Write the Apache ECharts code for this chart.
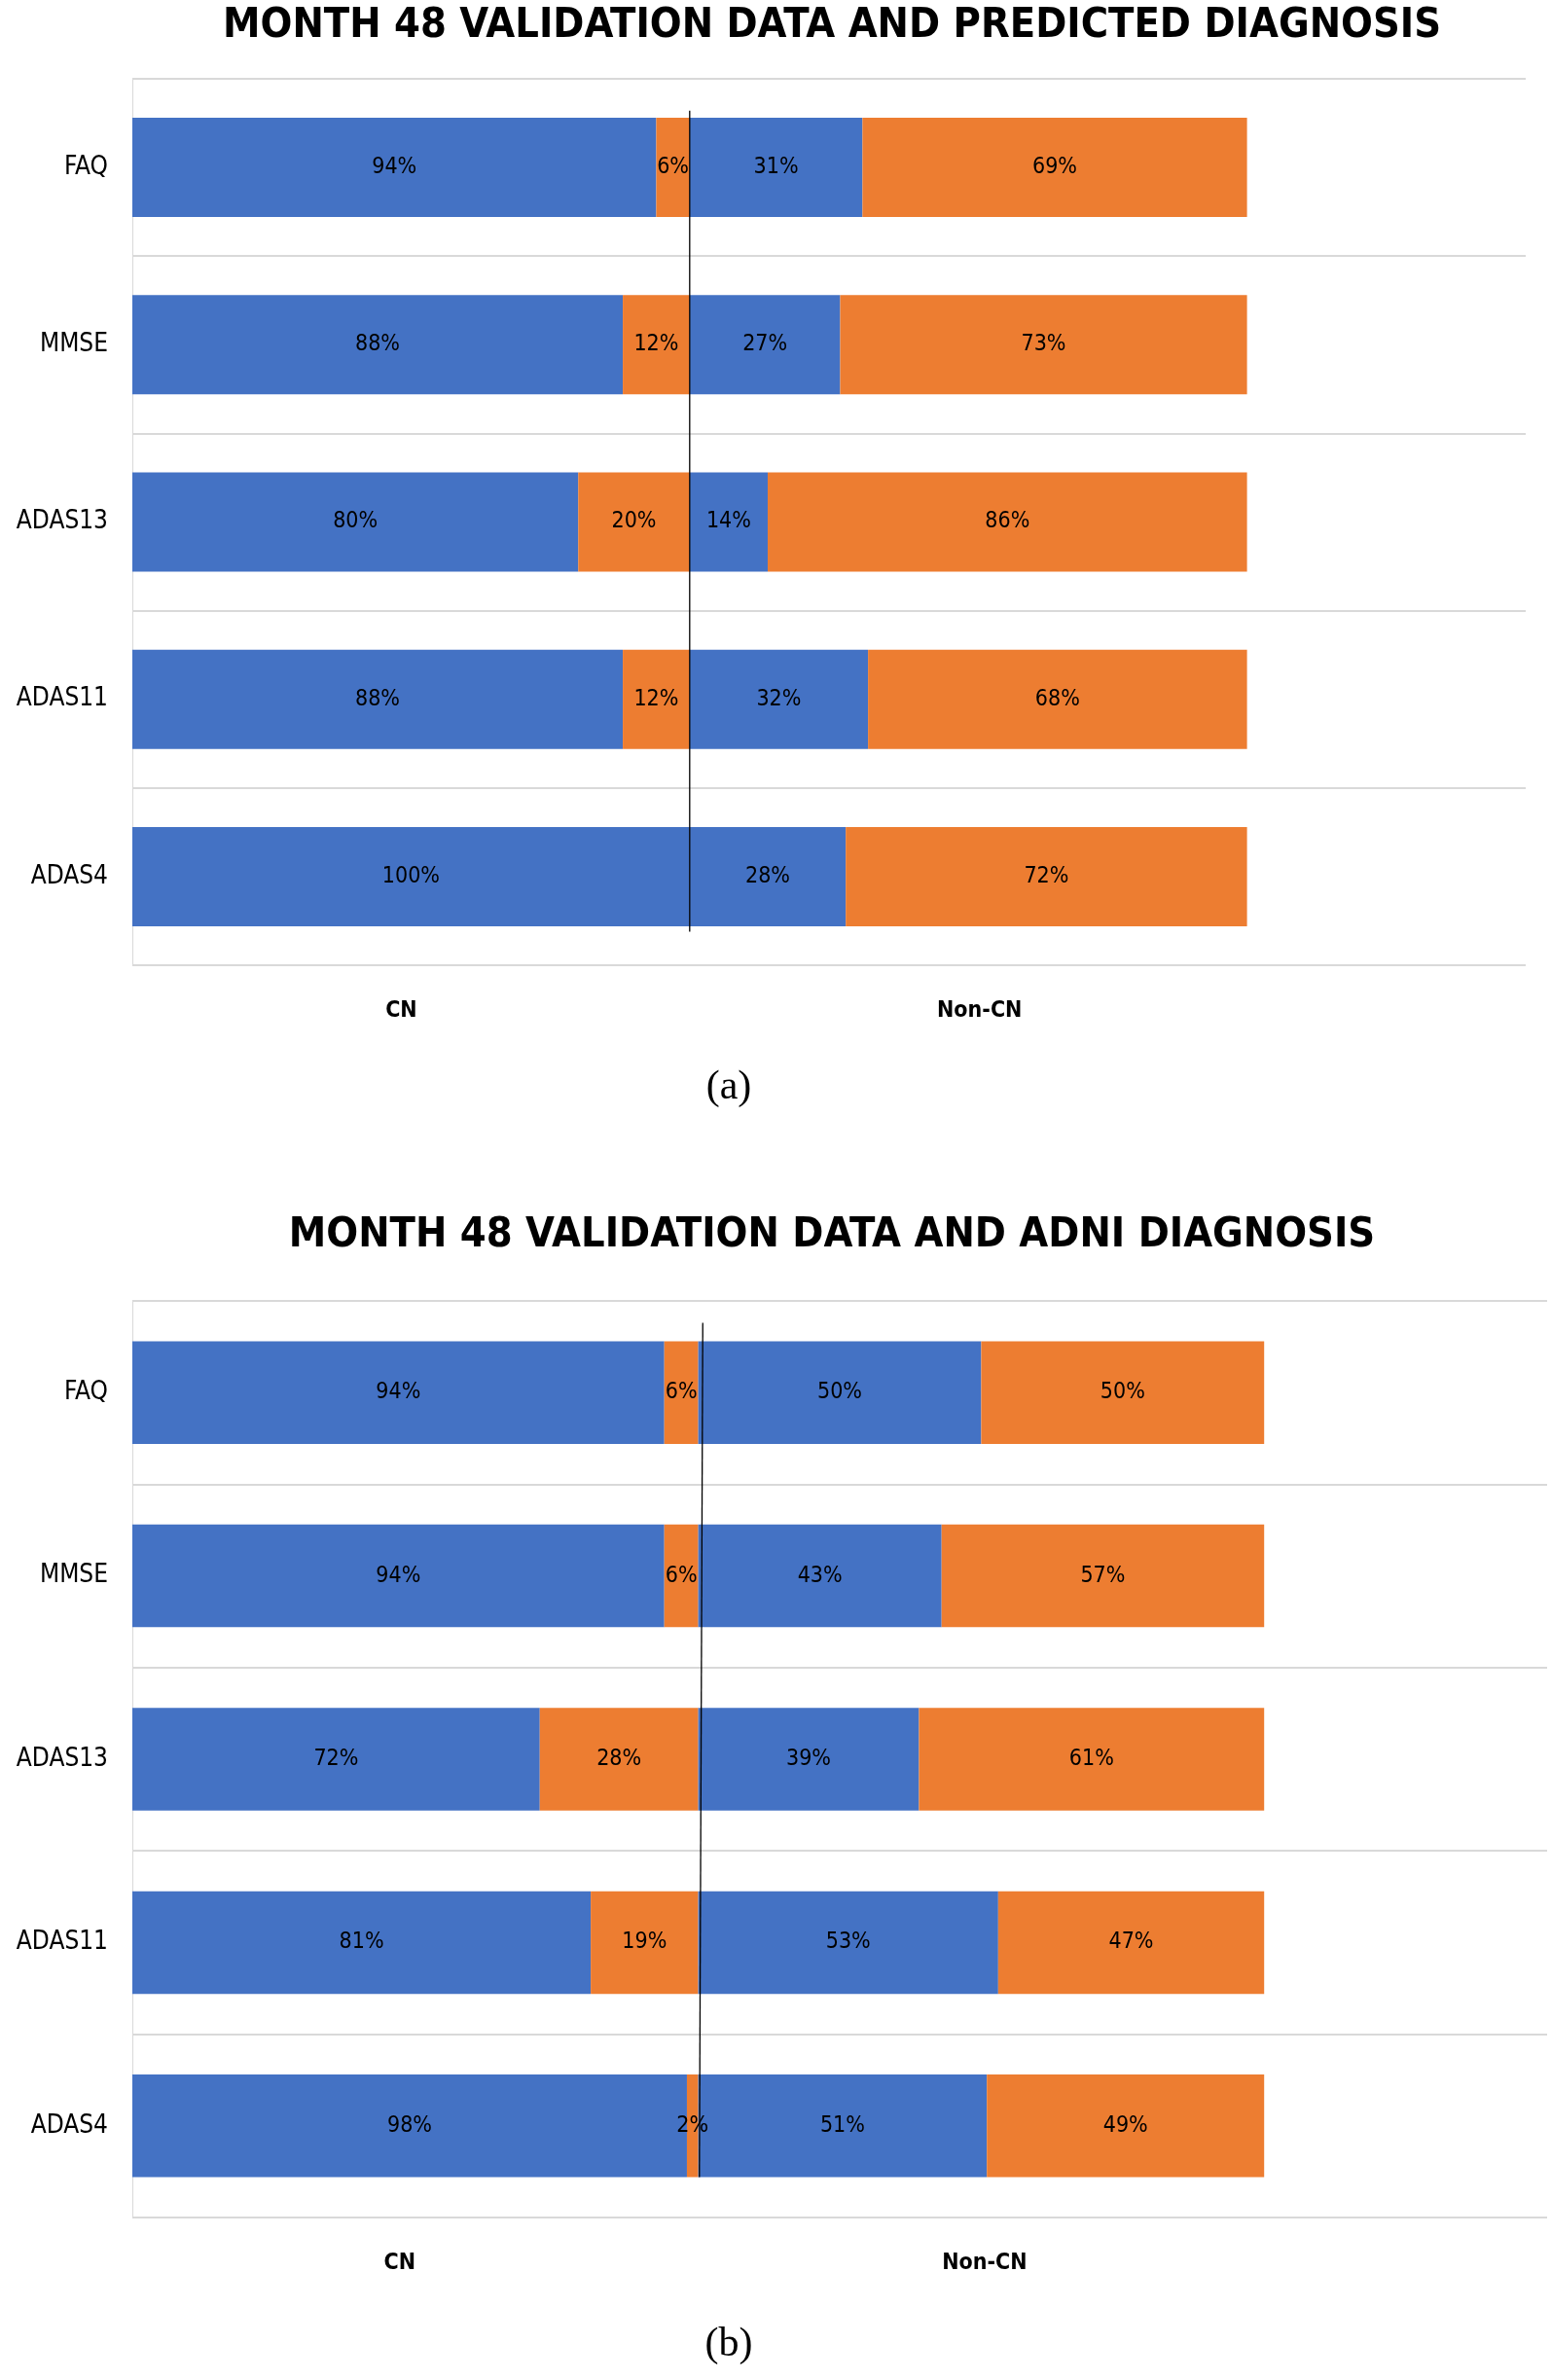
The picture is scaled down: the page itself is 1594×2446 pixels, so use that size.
<!DOCTYPE html>
<html><head><meta charset="utf-8">
<script src="https://cdn.jsdelivr.net/npm/echarts@6/dist/echarts.min.js"></script>
<style>html,body{margin:0;padding:0;background:#fff}#c{width:1594px;height:2446px}</style>
</head><body><div id="c"></div>
<script>
const categories = ['FAQ', 'MMSE', 'ADAS13', 'ADAS11', 'ADAS4'];
const tickLabels = { 50: 'CN', 150: 'Non-CN' };
const titleA = 'MONTH 48 VALIDATION DATA AND PREDICTED DIAGNOSIS';
const titleB = 'MONTH 48 VALIDATION DATA AND ADNI DIAGNOSIS';
// Chart (a): predicted diagnosis
const aCnBlue = [94, 88, 80, 88, 100];
const aCnOrange = [6, 12, 20, 12, 0];
const aNonBlue = [31, 27, 14, 32, 28];
const aNonOrange = [69, 73, 86, 68, 72];
const aDivider = [[100, 0.18], [100, 4.81]];
// Chart (b): ADNI diagnosis
const bCnBlue = [94, 94, 72, 81, 98];
const bCnOrange = [6, 6, 28, 19, 2];
const bNonBlue = [50, 43, 39, 53, 51];
const bNonOrange = [50, 57, 61, 47, 49];
const bDivider = [[100.8, 0.12], [100.2, 4.78]];

const BLUE = '#4472C4', ORANGE = '#ED7D31', GRID = '#D9D9D9';
const FONT = '"Liberation Sans Narrow", "DejaVu Sans Condensed", "DejaVu Sans", sans-serif';

// label nudges (rich padding) so group labels sit where the reference has them
const labelPad = [
  { cn: [0, 20, 0, 0], non: [0, 0, 0, 23] },
  { cn: [0, 32, 0, 0], non: [0, 0, 0, 7] }
];

function xAxis(gi) {
  const base = { fontFamily: FONT, fontWeight: 'bold', fontSize: 23, color: '#000' };
  return {
    type: 'value', gridIndex: gi, min: 0, max: 250, interval: 50,
    splitLine: { show: false }, axisLine: { show: false }, axisTick: { show: false },
    axisLabel: {
      formatter: v => v === 50 ? '{cn|' + tickLabels[v] + '}' : (v === 150 ? '{non|' + tickLabels[v] + '}' : ''),
      rich: {
        cn: Object.assign({ padding: labelPad[gi].cn }, base),
        non: Object.assign({ padding: labelPad[gi].non }, base)
      },
      fontFamily: FONT, fontWeight: 'bold', fontSize: 23, color: '#000', margin: 36,
      showMinLabel: true, showMaxLabel: true
    }
  };
}
function yCat(gi) {
  return {
    type: 'category', gridIndex: gi, data: categories, inverse: true,
    axisLine: { show: true, lineStyle: { color: GRID, width: 1 } },
    axisTick: { show: false },
    splitLine: { show: true, lineStyle: { color: GRID, width: 2 } },
    axisLabel: { fontFamily: FONT, fontSize: 26, color: '#000', margin: 25 }
  };
}
function yVal(gi) {
  return { type: 'value', gridIndex: gi, min: 0, max: 5, inverse: true, show: false };
}
function bar(data, color, gi, stack) {
  return {
    type: 'bar', data: data, stack: stack, xAxisIndex: gi, yAxisIndex: gi * 2,
    barCategoryGap: '44%', itemStyle: { color: color },
    label: {
      show: true, position: 'inside', color: '#000', fontFamily: FONT, fontSize: 23,
      formatter: p => (p.value ? p.value + '%' : '')
    },
    silent: true, animation: false
  };
}
function divider(data, gi) {
  return {
    type: 'line', data: data, xAxisIndex: gi, yAxisIndex: gi * 2 + 1,
    symbol: 'none', lineStyle: { color: '#000', width: 1.3 }, z: 10,
    silent: true, animation: false
  };
}

const chart = echarts.init(document.getElementById('c'), null, { renderer: 'canvas' });
chart.setOption({
  backgroundColor: '#fff',
  animation: false,
  grid: [
    { left: 136, top: 81, width: 1432, height: 911 },
    { left: 136, top: 1337, width: 1454, height: 942 }
  ],
  xAxis: [xAxis(0), xAxis(1)],
  yAxis: [yCat(0), yVal(0), yCat(1), yVal(1)],
  series: [
    bar(aCnBlue, BLUE, 0, 'a'), bar(aCnOrange, ORANGE, 0, 'a'),
    bar(aNonBlue, BLUE, 0, 'a'), bar(aNonOrange, ORANGE, 0, 'a'),
    divider(aDivider, 0),
    bar(bCnBlue, BLUE, 1, 'b'), bar(bCnOrange, ORANGE, 1, 'b'),
    bar(bNonBlue, BLUE, 1, 'b'), bar(bNonOrange, ORANGE, 1, 'b'),
    divider(bDivider, 1)
  ],
  graphic: [
    { type: 'text', x: 855, y: 27, style: { text: titleA, font: 'bold 43px ' + FONT, fill: '#000', textAlign: 'center', textVerticalAlign: 'middle' } },
    { type: 'text', x: 855, y: 1270, style: { text: titleB, font: 'bold 43px ' + FONT, fill: '#000', textAlign: 'center', textVerticalAlign: 'middle' } },
    { type: 'text', x: 749, y: 1118, style: { text: '(a)', font: '42px "Liberation Serif", serif', fill: '#000', textAlign: 'center', textVerticalAlign: 'middle' } },
    { type: 'text', x: 749, y: 2410, style: { text: '(b)', font: '42px "Liberation Serif", serif', fill: '#000', textAlign: 'center', textVerticalAlign: 'middle' } }
  ]
});
</script>
</body></html>
